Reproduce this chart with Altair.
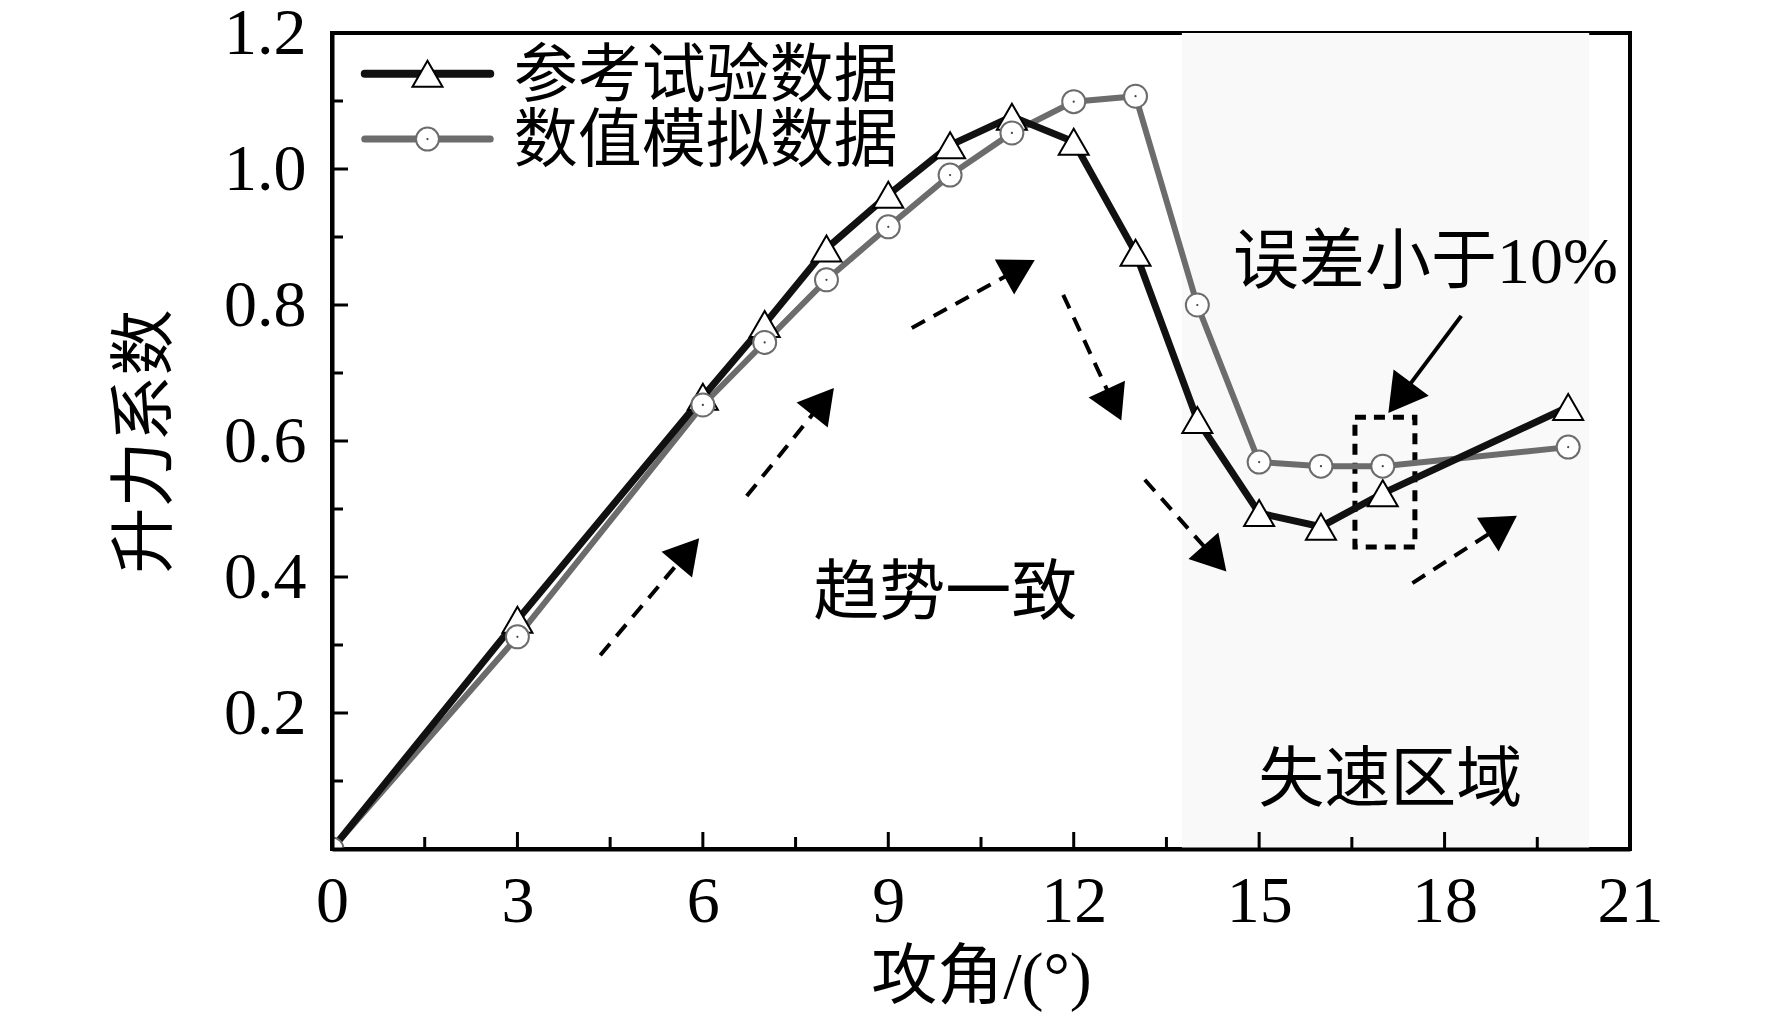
import math
import altair as alt
import pandas as pd

# ---------------- data ----------------
angle_deg = [0, 3, 6, 7, 8, 9, 10, 11, 12, 13, 14, 15, 16, 17, 20]
cl_experiment = [0.0, 0.337, 0.665, 0.772, 0.883, 0.962, 1.035, 1.077, 1.040, 0.877, 0.631, 0.494, 0.474, 0.523, 0.650]
cl_simulation = [0.0, 0.312, 0.653, 0.745, 0.837, 0.915, 0.991, 1.053, 1.099, 1.107, 0.800, 0.569, 0.563, 0.563, 0.591]
series_names = ["参考试验数据", "数值模拟数据"]

x_label_values = [0, 3, 6, 9, 12, 15, 18, 21]
x_minor_ticks = [1.5, 4.5, 7.5, 10.5, 13.5, 16.5, 19.5]
y_label_values = [0.2, 0.4, 0.6, 0.8, 1.0, 1.2]
y_major_ticks = [0.2, 0.4, 0.6, 0.8, 1.0]
y_minor_ticks = [0.1, 0.3, 0.5, 0.7, 0.9, 1.1]

stall_range = [13.75, 20.34]          # shaded stall region (angle)
error_box_x = [16.55, 17.52]           # dashed box
error_box_y = [0.444, 0.635]

# dashed trend arrows: start -> tip
trend_x0 = [4.34, 6.71, 9.38, 11.83, 13.15, 17.48]
trend_y0 = [0.285, 0.519, 0.766, 0.815, 0.543, 0.391]
trend_x1 = [5.94, 8.12, 11.37, 12.77, 14.47, 19.17]
trend_y1 = [0.457, 0.678, 0.866, 0.630, 0.408, 0.490]
# solid pointer arrow
pointer_x = [18.27, 17.09]
pointer_y = [0.784, 0.641]

annotations = ["趋势一致", "误差小于10%", "失速区域"]
annot_x = [9.92, 17.69, 17.12]
annot_y = [0.375, 0.862, 0.100]

# legend placement (data coords)
LEG_X = [0.53, 2.56]
LEG_Y = [1.140, 1.044]
LEG_TEXT_X = 2.94

# ---------------- styling ----------------
W, H = 1298, 816
XMAX, YMAX = 21, 1.2
SX, SY = W / XMAX, H / YMAX
NUM_FONT = "'Liberation Serif', 'Noto Sans CJK SC'"
FS = 66
BLACK = "#111111"
GRAY = "#6c6c6c"

xs = alt.Scale(domain=[0, XMAX], nice=False, zero=False)
ys = alt.Scale(domain=[0, YMAX], nice=False, zero=False)

x_axis = alt.Axis(values=x_label_values, format="d", ticks=False, tickSize=0, grid=False,
                  domain=True, domainWidth=4, domainColor="black",
                  labelFont=NUM_FONT, labelFontSize=FS, labelColor="black", labelPadding=20,
                  labelFlush=False, labelOverlap=False, labelBound=False,
                  title="攻角/(°)", titleFont=NUM_FONT, titleFontSize=FS, titleFontWeight="normal",
                  titleColor="black", titlePadding=11, zindex=1)
y_axis = alt.Axis(values=y_label_values, format=".1f", ticks=False, tickSize=0, grid=False,
                  domain=True, domainWidth=4, domainColor="black",
                  labelFont=NUM_FONT, labelFontSize=FS, labelColor="black", labelPadding=26,
                  labelFlush=False, labelOverlap=False, labelBound=False,
                  title="升力系数", titleFont=NUM_FONT, titleFontSize=FS, titleFontWeight="normal",
                  titleColor="black", titlePadding=44, zindex=1)


def X(f):
    return alt.X(f"{f}:Q", scale=xs, axis=x_axis)


def Y(f):
    return alt.Y(f"{f}:Q", scale=ys, axis=y_axis)


def arrow_frames(x0s, y0s, x1s, y1s, side):
    h = math.sqrt(3) / 2 * side / 2
    rows = []
    for x0, y0, x1, y1 in zip(x0s, y0s, x1s, y1s):
        dx = (x1 - x0) * SX
        dy = -(y1 - y0) * SY
        L = math.hypot(dx, dy)
        ux, uy = dx / L, dy / L
        ang = math.degrees(math.atan2(ux, -uy)) % 360
        cx = x1 - h * ux / SX
        cy = y1 + h * uy / SY
        rows.append({"x0": x0, "y0": y0, "x1": cx, "y1": cy, "hx": cx, "hy": cy, "ang": ang})
    return pd.DataFrame(rows)


# ---------------- layers ----------------
shade = alt.Chart(pd.DataFrame({"x0": [stall_range[0]], "x1": [stall_range[1]],
                                "y0": [0.0], "y1": [YMAX]})).mark_rect(
    color="#f9f9f9").encode(x=X("x0"), x2="x1", y=Y("y0"), y2="y1")

xt_major = alt.Chart(pd.DataFrame({"v": x_label_values})).mark_rule(
    color="black", strokeWidth=3).encode(x=X("v"), y=alt.value(H), y2=alt.value(H - 17))
xt_minor = alt.Chart(pd.DataFrame({"v": x_minor_ticks})).mark_rule(
    color="black", strokeWidth=3).encode(x=X("v"), y=alt.value(H), y2=alt.value(H - 12))
yt_major = alt.Chart(pd.DataFrame({"v": y_major_ticks})).mark_rule(
    color="black", strokeWidth=3).encode(y=Y("v"), x=alt.value(0), x2=alt.value(16))
yt_minor = alt.Chart(pd.DataFrame({"v": y_minor_ticks})).mark_rule(
    color="black", strokeWidth=3).encode(y=Y("v"), x=alt.value(0), x2=alt.value(11))

box = alt.Chart(pd.DataFrame({"x0": [error_box_x[0]], "x1": [error_box_x[1]],
                              "y0": [error_box_y[0]], "y1": [error_box_y[1]]})).mark_rect(
    fill=None, fillOpacity=0, stroke="black", strokeWidth=5, strokeDash=[11, 8]).encode(
    x=X("x0"), x2="x1", y=Y("y0"), y2="y1")

tr = arrow_frames(trend_x0, trend_y0, trend_x1, trend_y1, 40)
trend_lines = alt.Chart(tr).mark_rule(color="black", strokeWidth=4, strokeDash=[15, 10]).encode(
    x=X("x0"), y=Y("y0"), x2="x1", y2="y1")
trend_heads = alt.Chart(tr).mark_point(shape="triangle-up", filled=True, size=1600,
                                       color="black", opacity=1).encode(
    x=X("hx"), y=Y("hy"), angle=alt.Angle("ang:Q", scale=None))

pa = arrow_frames([pointer_x[0]], [pointer_y[0]], [pointer_x[1]], [pointer_y[1]], 44)
pointer_line = alt.Chart(pa).mark_rule(color="black", strokeWidth=4).encode(
    x=X("x0"), y=Y("y0"), x2="x1", y2="y1")
pointer_head = alt.Chart(pa).mark_point(shape="triangle-up", filled=True, size=44 * 44,
                                        color="black", opacity=1).encode(
    x=X("hx"), y=Y("hy"), angle=alt.Angle("ang:Q", scale=None))

exp_df = pd.DataFrame({"a": angle_deg, "cl": cl_experiment})
sim_df = pd.DataFrame({"a": angle_deg, "cl": cl_simulation})

sim_line = alt.Chart(sim_df).mark_line(color=GRAY, strokeWidth=6, clip=True).encode(x=X("a"), y=Y("cl"))
exp_line = alt.Chart(exp_df).mark_line(color=BLACK, strokeWidth=7, clip=True).encode(x=X("a"), y=Y("cl"))
exp_pts = alt.Chart(exp_df).mark_point(shape="triangle-up", size=900, filled=True, fill="white",
                                       stroke="black", strokeWidth=2, opacity=1, clip=True).encode(
    x=X("a"), y=Y("cl"))
sim_pts = alt.Chart(sim_df).mark_point(shape="circle", size=529, filled=True, fill="white",
                                       stroke=GRAY, strokeWidth=2, opacity=1, clip=True).encode(
    x=X("a"), y=Y("cl"))
sim_dots = alt.Chart(sim_df).mark_point(shape="circle", size=5, filled=True, color="#444444",
                                        opacity=1, clip=True).encode(x=X("a"), y=Y("cl"))

ann_df = pd.DataFrame({"t": annotations, "x": annot_x, "y": annot_y})
ann = alt.Chart(ann_df).mark_text(font=NUM_FONT, fontSize=FS, color="black", align="center",
                                  baseline="middle").encode(x=X("x"), y=Y("y"), text="t:N")

# legend
leg_df = pd.DataFrame({"name": series_names, "x0": [LEG_X[0]] * 2, "x1": [LEG_X[1]] * 2,
                       "xm": [(LEG_X[0] + LEG_X[1]) / 2] * 2, "y": LEG_Y,
                       "tx": [LEG_TEXT_X] * 2})
leg_line_exp = alt.Chart(leg_df.iloc[[0]]).mark_rule(color=BLACK, strokeWidth=8, strokeCap="round").encode(
    x=X("x0"), x2="x1", y=Y("y"))
leg_line_sim = alt.Chart(leg_df.iloc[[1]]).mark_rule(color=GRAY, strokeWidth=7, strokeCap="round").encode(
    x=X("x0"), x2="x1", y=Y("y"))
leg_pt_exp = alt.Chart(leg_df.iloc[[0]]).mark_point(shape="triangle-up", size=900, filled=True, fill="white",
                                                   stroke="black", strokeWidth=2, opacity=1).encode(
    x=X("xm"), y=Y("y"))
leg_pt_sim = alt.Chart(leg_df.iloc[[1]]).mark_point(shape="circle", size=529, filled=True, fill="white",
                                                   stroke=GRAY, strokeWidth=2, opacity=1).encode(
    x=X("xm"), y=Y("y"))
leg_dot_sim = alt.Chart(leg_df.iloc[[1]]).mark_point(shape="circle", size=5, filled=True, color="#444444",
                                                    opacity=1).encode(x=X("xm"), y=Y("y"))
leg_text = alt.Chart(leg_df).mark_text(font=NUM_FONT, fontSize=64, color="black", align="left",
                                       baseline="middle", dy=3).encode(x=X("tx"), y=Y("y"), text="name:N")

chart = alt.layer(
    shade, xt_major, xt_minor, yt_major, yt_minor, box,
    trend_lines, trend_heads, pointer_line, pointer_head,
    sim_line, exp_line, exp_pts, sim_pts, sim_dots,
    ann, leg_line_exp, leg_line_sim, leg_pt_exp, leg_pt_sim, leg_dot_sim, leg_text,
).properties(
    width=W, height=H,
    autosize=alt.AutoSizeParams(type="none"),
    padding={"left": 324, "top": 25, "right": 120, "bottom": 172},
    background="white",
).configure_view(stroke="black", strokeWidth=4)

chart.save("out.html", embed_options={"renderer": "svg", "actions": False})
